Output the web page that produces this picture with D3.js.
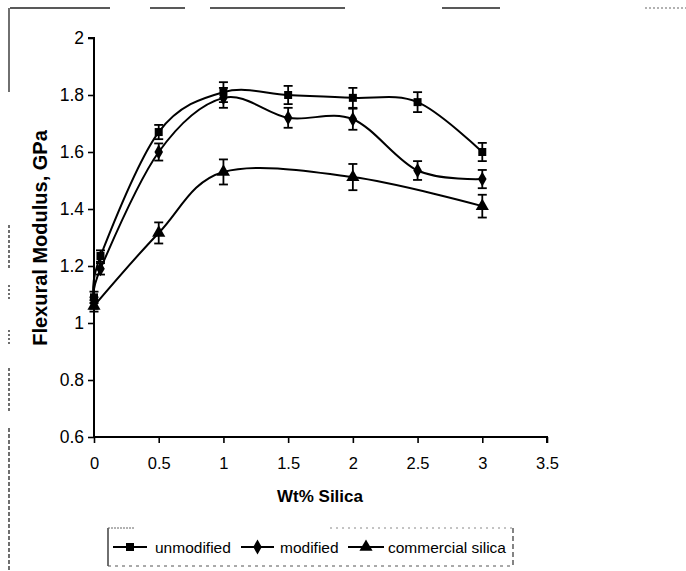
<!DOCTYPE html>
<html>
<head>
<meta charset="utf-8">
<script src="https://cdn.jsdelivr.net/npm/d3@7"></script>
<style>
  html, body { margin: 0; padding: 0; background: #fff; }
  svg { display: block; }
  text { font-family: "Liberation Sans", Arial, sans-serif; fill: #000; }
</style>
</head>
<body>
<svg id="chart" width="686" height="571"></svg>
<script>
// Flexural modulus (GPa) versus silica loading (wt%)
const xUnmodified = [0, 0.05, 0.5, 1, 1.5, 2, 2.5, 3];
const unmodified = [1.09, 1.235, 1.67, 1.81, 1.80, 1.79, 1.775, 1.60];
const unmodifiedErr = [0.02, 0.02, 0.025, 0.035, 0.032, 0.035, 0.035, 0.032];

const xModified = [0, 0.05, 0.5, 1, 1.5, 2, 2.5, 3];
const modified = [1.07, 1.19, 1.60, 1.79, 1.72, 1.715, 1.535, 1.505];
const modifiedErr = [0.02, 0.02, 0.03, 0.035, 0.035, 0.037, 0.033, 0.032];

const xCommercial = [0, 0.5, 1, 2, 3];
const commercial = [1.06, 1.316, 1.53, 1.512, 1.41];
const commercialErr = [0.02, 0.037, 0.044, 0.046, 0.04];

const xTicks = [0, 0.5, 1, 1.5, 2, 2.5, 3, 3.5];
const yTicks = [0.6, 0.8, 1, 1.2, 1.4, 1.6, 1.8, 2];
const seriesNames = ["unmodified", "modified", "commercial silica"];

const svg = d3.select("#chart");
const x = d3.scaleLinear().domain([0, 3.5]).range([94, 547]);
const y = d3.scaleLinear().domain([0.6, 2]).range([437, 38]);

// outer frame (broken line segments)
const frame = svg.append("g").attr("stroke", "#222").attr("stroke-width", 1.3).attr("fill", "none");
[[10, 110], [150, 185], [210, 345], [442, 500]].forEach(([a, b]) =>
  frame.append("line").attr("x1", a).attr("x2", b).attr("y1", 8).attr("y2", 8));
frame.append("line").attr("x1", 645).attr("x2", 686).attr("y1", 8).attr("y2", 8)
  .attr("stroke", "#999").attr("stroke-dasharray", "2,2");
[[8, 92, null], [225, 268, "3,2"], [285, 300, "2,2"], [330, 345, "2,2"], [368, 412, "3,2"], [428, 571, "4,2"]]
  .forEach(([a, b, d]) => {
    const l = frame.append("line").attr("x1", 9).attr("x2", 9).attr("y1", a).attr("y2", b);
    if (d) l.attr("stroke-dasharray", d);
  });

// axes
const fmt = d => String(+d.toFixed(1));
const yAxis = d3.axisLeft(y).tickValues(yTicks).tickSize(6).tickPadding(4).tickFormat(fmt);
const xAxis = d3.axisBottom(x).tickValues(xTicks).tickSize(6).tickPadding(14).tickFormat(fmt);

const gy = svg.append("g").attr("transform", `translate(${x(0)},0)`).call(yAxis);
const gx = svg.append("g").attr("transform", `translate(0,${y(0.6)})`).call(xAxis);
[gx, gy].forEach(g => {
  g.select(".domain").attr("stroke", "#000").attr("stroke-width", 2);
  g.selectAll(".tick line").attr("stroke", "#000").attr("stroke-width", 1.6);
  g.selectAll(".tick text").attr("font-family", "Liberation Sans, Arial, sans-serif").attr("fill", "#000");
});
gy.selectAll(".tick text").attr("font-size", 17.5);
gx.selectAll(".tick text").attr("font-size", 16.5);
gy.select(".domain").attr("d", `M-6,${y(2)}H0V${y(0.6)}`);
gx.select(".domain").attr("d", `M${x(0)},0H${x(3.5)}V6`);

// axis titles
svg.append("text").attr("x", 320).attr("y", 502).attr("text-anchor", "middle")
  .attr("font-size", 17).attr("font-weight", "bold").text("Wt% Silica");
svg.append("text").attr("transform", "translate(47,238) rotate(-90)").attr("text-anchor", "middle")
  .attr("font-size", 20).attr("font-weight", "bold").text("Flexural Modulus, GPa");

const line = d3.line().x(d => x(d[0])).y(d => y(d[1])).curve(d3.curveCatmullRom.alpha(0));

const symbols = [d3.symbolSquare, d3.symbolDiamond, d3.symbolTriangle];
const symSizes = [64, 64, 75];
const allSeries = [
  { xs: xUnmodified, ys: unmodified, err: unmodifiedErr },
  { xs: xModified, ys: modified, err: modifiedErr },
  { xs: xCommercial, ys: commercial, err: commercialErr }
];

const plot = svg.append("g");
allSeries.forEach((s, i) => {
  const pts = s.xs.map((v, j) => [v, s.ys[j], s.err[j]]);
  plot.append("path").datum(pts).attr("d", line)
    .attr("fill", "none").attr("stroke", "#000").attr("stroke-width", 2);
  const eb = plot.append("g").attr("stroke", "#000").attr("stroke-width", 1.8);
  pts.forEach(p => {
    const cx = x(p[0]), y0 = y(p[1] - p[2]), y1 = y(p[1] + p[2]);
    eb.append("line").attr("x1", cx).attr("x2", cx).attr("y1", y0).attr("y2", y1);
    eb.append("line").attr("x1", cx - 4.5).attr("x2", cx + 4.5).attr("y1", y0).attr("y2", y0);
    eb.append("line").attr("x1", cx - 4.5).attr("x2", cx + 4.5).attr("y1", y1).attr("y2", y1);
  });
  plot.selectAll(null).data(pts).enter().append("path")
    .attr("transform", p => `translate(${x(p[0])},${y(p[1])})`)
    .attr("d", d3.symbol().type(symbols[i]).size(symSizes[i]))
    .attr("fill", "#000");
});

// legend
const lg = svg.append("g");
lg.append("path").attr("d", "M108,528V566").attr("stroke", "#222").attr("stroke-width", 1.3);
lg.append("path").attr("d", "M108,528H135").attr("stroke", "#666").attr("stroke-width", 1).attr("stroke-dasharray", "2,1");
lg.append("path").attr("d", "M330,528H513").attr("stroke", "#888").attr("stroke-width", 1).attr("stroke-dasharray", "2,4");
lg.append("path").attr("d", "M108,566H513").attr("stroke", "#555").attr("stroke-width", 1).attr("stroke-dasharray", "3,4");
lg.append("path").attr("d", "M513,528V566").attr("stroke", "#333").attr("stroke-width", 1.2).attr("stroke-dasharray", "5,3");

const legendItems = [
  { x1: 113, x2: 147, text: 155 },
  { x1: 241, x2: 274, text: 280 },
  { x1: 348, x2: 384, text: 388 }
];
legendItems.forEach((it, i) => {
  const ly = 547;
  lg.append("line").attr("x1", it.x1).attr("x2", it.x2).attr("y1", ly).attr("y2", ly)
    .attr("stroke", "#000").attr("stroke-width", 2);
  lg.append("path").attr("transform", `translate(${(it.x1 + it.x2) / 2},${ly})`)
    .attr("d", d3.symbol().type(symbols[i]).size(symSizes[i])).attr("fill", "#000");
  lg.append("text").attr("x", it.text).attr("y", ly + 6).attr("font-size", 15.5).text(seriesNames[i]);
});
</script>
</body>
</html>
